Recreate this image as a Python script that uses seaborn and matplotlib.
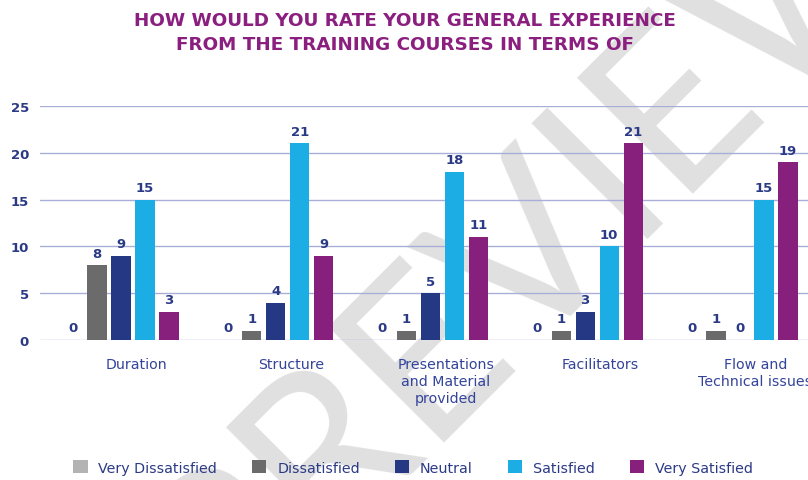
import matplotlib
matplotlib.use("Agg")
import matplotlib.pyplot as plt
import seaborn as sns
import pandas as pd

categories = ["Duration", "Structure", "Presentations\nand Material\nprovided",
              "Facilitators", "Flow and\nTechnical issues"]
ratings = ["Very Dissatisfied", "Dissatisfied", "Neutral", "Satisfied", "Very Satisfied"]
very_dissatisfied = [0, 0, 0, 0, 0]
dissatisfied = [8, 1, 1, 1, 1]
neutral = [9, 4, 5, 3, 0]
satisfied = [15, 21, 18, 10, 15]
very_satisfied = [3, 9, 11, 21, 19]
y_ticks = [0, 5, 10, 15, 20, 25]
title = "HOW WOULD YOU RATE YOUR GENERAL EXPERIENCE\nFROM THE TRAINING COURSES IN TERMS OF"

series = [very_dissatisfied, dissatisfied, neutral, satisfied, very_satisfied]
rows = []
for r, vals in zip(ratings, series):
    for c, v in zip(categories, vals):
        rows.append({"category": c, "rating": r, "value": v})
df = pd.DataFrame(rows)

palette = {"Very Dissatisfied": "#b3b3b3", "Dissatisfied": "#6b6b6b",
           "Neutral": "#253884", "Satisfied": "#1badE3", "Very Satisfied": "#87207d"}
navy = "#2b3a85"

sns.set_theme(style="white")
plt.rcParams["font.family"] = ["DejaVu Sans"]

fig = plt.figure(figsize=(8.08, 4.81), dpi=100)
# watermark
fig.text(0.66, 0.50, "PREVIEW", rotation=45, fontsize=165, color="#e0e0e0",
         ha="center", va="center", zorder=-5, family="Lato", fontweight="normal")

ax = fig.add_axes([40/808, 140/481, 768/808, 234/481])
ax.set_facecolor("none")
sns.barplot(data=df, x="category", y="value", hue="rating", order=categories,
            hue_order=ratings, palette=palette, width=0.776, gap=0.2,
            saturation=1, ax=ax, zorder=3, edgecolor="none")

for cont in ax.containers:
    ax.bar_label(cont, fmt="%d", padding=4, color=navy, fontsize=9.5,
                 fontweight="bold", clip_on=False)

ax.set_xlim(-0.523, 4.44)
ax.set_ylim(0, 25)
ax.set_yticks(y_ticks)
ax.set_yticklabels([str(t) for t in y_ticks], color=navy, fontsize=9.5, fontweight="semibold")
ax.set_xticks([i + 0.1 for i in range(len(categories))])
ax.set_xticklabels(categories, color="#34449a", fontsize=10.2, linespacing=1.3)
ax.tick_params(axis="both", length=0)
ax.tick_params(axis="x", pad=12)
ax.tick_params(axis="y", pad=8)
ax.set_xlabel("")
ax.set_ylabel("")
for s in ax.spines.values():
    s.set_visible(False)
ax.yaxis.grid(True, color="#a9aed8", linewidth=1.0, zorder=0)
ax.set_axisbelow(True)

handles, labels = ax.get_legend_handles_labels()
ax.legend_.remove()
fig.legend(handles, labels, loc="center", bbox_to_anchor=(0.511, 0.026), ncol=5,
           frameon=False, fontsize=10.3, handlelength=1.0, handleheight=1.0,
           handletextpad=0.75, columnspacing=2.45, labelcolor=navy)

fig.text(0.501, 0.931, title, ha="center", va="center", fontsize=13.2,
         fontweight="bold", color="#8a1f7f", linespacing=1.4)

fig.savefig("out.png", dpi=100)
